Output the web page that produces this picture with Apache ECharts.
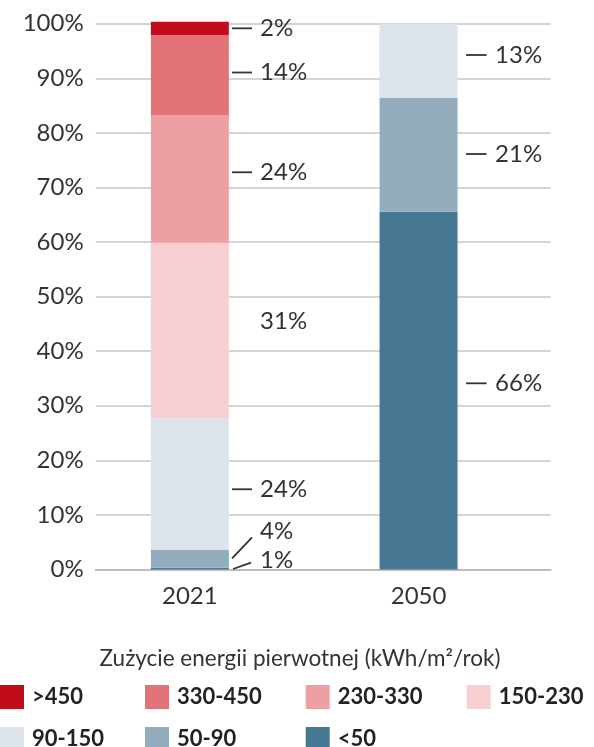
<!DOCTYPE html>
<html><head><meta charset="utf-8">
<script src="https://cdn.jsdelivr.net/npm/echarts@6/dist/echarts.min.js"></script>
<style>html,body{margin:0;padding:0;background:#fff}#c{width:594px;height:747px}</style>
</head><body><div id="c"></div>
<script>
// ---- data ----
const categories = ['2021', '2050'];
const bands = ['>450', '330-450', '230-330', '150-230', '90-150', '50-90', '<50'];
const values2021 = [2.44, 14.66, 23.4, 32.17, 24.13, 3.24, 0.33];
const values2050 = [0, 0, 0, 0, 13.56, 20.89, 65.55];
const labels2021 = ['2%', '14%', '24%', '31%', '24%', '4%', '1%'];
const labels2050 = ['', '', '', '', '13%', '21%', '66%'];
const yTickLabels = ['0%', '10%', '20%', '30%', '40%', '50%', '60%', '70%', '80%', '90%', '100%'];
const axisTitle = 'Zużycie energii pierwotnej (kWh/m²/rok)';

// ---- styles / layout ----
const colors = ['#c30c1b', '#e27378', '#eda0a4', '#f7cfd2', '#dce3ea', '#94adbe', '#467893'];
const FONT = 'Lato, "Noto Sans", sans-serif';
const TXT = '#333333';
// per-category label offsets relative to bar centre (px)
const catLayout = [
  { d0: 42.2, d1: 62.2, t: 70.2 },
  { d0: 47.5, d1: 68, t: 76.5 }
];
// per-label style: kind and vertical nudges (px) relative to the segment middle
const labelLayout2021 = [
  { kind: 'dash', ty: 0 },
  { kind: 'dash', ty: -2.5 },
  { kind: 'dash', ty: -6.6 },
  { kind: 'none', ty: -8.8 },
  { kind: 'dash', ty: 5.1 },
  { kind: 'slant', ty: -27.2, x0: 42.2, y0: -0.4, x1: 62.2, y1: -21.4 },
  { kind: 'slant', ty: -8.6, x0: 43.2, y0: 0.4, x1: 61.2, y1: -5.9 }
];
const labelLayout2050 = [
  null, null, null, null,
  { kind: 'dash', ty: -5.7 },
  { kind: 'dash', ty: -0.7 },
  { kind: 'dash', ty: -7.3 }
];

// build annotations from data
const annots = [];
[[values2021, labels2021, labelLayout2021], [values2050, labels2050, labelLayout2050]].forEach(function (set, c) {
  const vals = set[0], labs = set[1], lay = set[2];
  for (let i = 0; i < bands.length; i++) {
    if (!labs[i]) continue;
    let below = 0;
    for (let j = i + 1; j < bands.length; j++) below += vals[j];
    annots.push({ cat: c, mid: below + vals[i] / 2, text: labs[i], lay: lay[i] });
  }
});

const gridTop = 23.7, gridBottom = 177.5;

const series = [];
for (let i = bands.length - 1; i >= 0; i--) {
  series.push({
    name: bands[i],
    type: 'bar',
    stack: 'total',
    xAxisIndex: 0, yAxisIndex: 0,
    barWidth: 78,
    clip: false,
    itemStyle: { color: colors[i] },
    emphasis: { disabled: true },
    data: [values2021[i] || null, values2050[i] || null]
  });
}
series.push({
  type: 'custom',
  xAxisIndex: 0, yAxisIndex: 0,
  silent: true,
  clip: false,
  z: 10,
  data: annots.map(function (a) { return [a.cat, a.mid]; }),
  encode: { x: 0, y: 1 },
  renderItem: function (params, api) {
    const a = annots[params.dataIndex];
    const p = api.coord([a.cat, a.mid]);
    const L = catLayout[a.cat];
    const s = a.lay;
    const ch = [];
    if (s.kind === 'dash') {
      ch.push({ type: 'line', shape: { x1: p[0] + L.d0, y1: p[1] + s.ty, x2: p[0] + L.d1, y2: p[1] + s.ty },
        style: { stroke: TXT, lineWidth: 1.8 } });
    } else if (s.kind === 'slant') {
      ch.push({ type: 'line', shape: { x1: p[0] + s.x0, y1: p[1] + s.y0, x2: p[0] + s.x1, y2: p[1] + s.y1 },
        style: { stroke: TXT, lineWidth: 1.8 } });
    }
    ch.push({ type: 'text', x: p[0] + L.t, y: p[1] + s.ty,
      style: { text: a.text, fill: TXT, font: '24px ' + FONT, align: 'left', verticalAlign: 'middle',
        textAlign: 'left', textVerticalAlign: 'middle' } });
    return { type: 'group', children: ch };
  }
});

const colX = [0, 145, 305.7, 466.7];
const rowY = [685, 727];

const option = {
  backgroundColor: '#ffffff',
  animation: false,
  textStyle: { fontFamily: FONT },
  graphic: [{
    type: 'text', x: 300, y: 659, silent: true,
    style: { text: axisTitle, fill: TXT, font: '22.5px ' + FONT, align: 'center', verticalAlign: 'middle',
      textAlign: 'center', textVerticalAlign: 'middle' }
  }],
  legend: bands.map(function (b, i) {
    return {
      data: [b], left: colX[i % 4], top: rowY[Math.floor(i / 4)], padding: 0,
      itemWidth: 24, itemHeight: 24, icon: 'rect', selectedMode: false, itemGap: 0,
      textStyle: { fontSize: 22, fontWeight: 'bold', color: '#222', fontFamily: FONT, padding: [0, 0, 0, 3] }
    };
  }),
  grid: [
    { left: 75.5, width: 457.4, top: gridTop, bottom: gridBottom },
    { left: 95.7, width: 455, top: gridTop, bottom: gridBottom }
  ],
  xAxis: [
    { type: 'category', gridIndex: 0, data: categories,
      axisLine: { show: false }, axisTick: { show: false },
      axisLabel: { fontSize: 24, color: TXT, fontFamily: FONT, margin: 15 } },
    { type: 'value', gridIndex: 1, min: 0, max: 1, splitLine: { show: false },
      axisTick: { show: false }, axisLabel: { show: false },
      axisLine: { show: true, lineStyle: { color: '#bdbdbd', width: 2 } } }
  ],
  yAxis: [
    { type: 'value', gridIndex: 0, min: 0, max: 100, show: false, splitLine: { show: false } },
    { type: 'value', gridIndex: 1, min: 0, max: 100, interval: 10,
      axisLine: { show: false }, axisTick: { show: false },
      splitLine: { lineStyle: { color: '#d4d4d4', width: 2 } },
      axisLabel: { fontSize: 24, color: TXT, fontFamily: FONT, margin: 12,
        formatter: function (v) { return yTickLabels[Math.round(v / 10)]; } } }
  ],
  series: series
};
const chart = echarts.init(document.getElementById('c'), null, { renderer: 'canvas' });
chart.setOption(option);
</script>
</body></html>
